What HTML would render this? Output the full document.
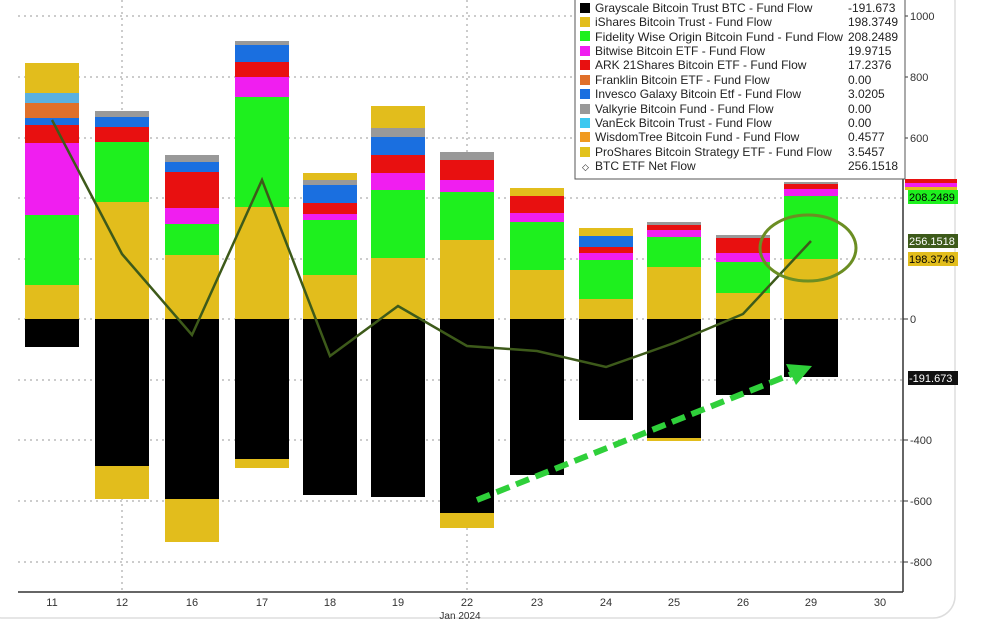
<!DOCTYPE html>
<html><head><meta charset="utf-8"><style>
body{margin:0;background:#fff;width:994px;height:621px;overflow:hidden;font-family:"Liberation Sans",sans-serif}
</style></head><body>
<svg width="994" height="621" xmlns="http://www.w3.org/2000/svg" font-family="Liberation Sans, sans-serif">
<rect x="-20" y="-20" width="975" height="638" rx="22" fill="#fff" stroke="#ddd" stroke-width="1.5"/>
<g stroke="#999" stroke-dasharray="2,4" stroke-width="1">
<line x1="18" y1="16" x2="903" y2="16"/><line x1="18" y1="77" x2="903" y2="77"/><line x1="18" y1="138" x2="903" y2="138"/><line x1="18" y1="198" x2="903" y2="198"/><line x1="18" y1="259" x2="903" y2="259"/><line x1="18" y1="319" x2="903" y2="319"/><line x1="18" y1="380" x2="903" y2="380"/><line x1="18" y1="440" x2="903" y2="440"/><line x1="18" y1="501" x2="903" y2="501"/><line x1="18" y1="562" x2="903" y2="562"/>
<line x1="122" y1="0" x2="122" y2="592"/><line x1="467" y1="0" x2="467" y2="592"/>
</g>
<g id="bars">
<rect x="25" y="319" width="54" height="28" fill="#000"/><rect x="25" y="285" width="54" height="34" fill="#e2bd1c"/><rect x="25" y="215" width="54" height="70" fill="#1ef01e"/><rect x="25" y="143" width="54" height="72" fill="#f01ef0"/><rect x="25" y="125" width="54" height="18" fill="#e81010"/><rect x="25" y="118" width="54" height="7" fill="#1a6fe0"/><rect x="25" y="103" width="54" height="15" fill="#e0702a"/><rect x="25" y="93" width="54" height="10" fill="#5ab0e0"/><rect x="25" y="63" width="54" height="30" fill="#e2bd1c"/>
<rect x="95" y="319" width="54" height="147" fill="#000"/><rect x="95" y="466" width="54" height="33" fill="#e2bd1c"/><rect x="95" y="202" width="54" height="117" fill="#e2bd1c"/><rect x="95" y="142" width="54" height="60" fill="#1ef01e"/><rect x="95" y="127" width="54" height="15" fill="#e81010"/><rect x="95" y="117" width="54" height="10" fill="#1a6fe0"/><rect x="95" y="111" width="54" height="6" fill="#999"/>
<rect x="165" y="319" width="54" height="180" fill="#000"/><rect x="165" y="499" width="54" height="43" fill="#e2bd1c"/><rect x="165" y="255" width="54" height="64" fill="#e2bd1c"/><rect x="165" y="224" width="54" height="31" fill="#1ef01e"/><rect x="165" y="208" width="54" height="16" fill="#f01ef0"/><rect x="165" y="172" width="54" height="36" fill="#e81010"/><rect x="165" y="162" width="54" height="10" fill="#1a6fe0"/><rect x="165" y="155" width="54" height="7" fill="#999"/>
<rect x="235" y="319" width="54" height="140" fill="#000"/><rect x="235" y="459" width="54" height="9" fill="#e2bd1c"/><rect x="235" y="207" width="54" height="112" fill="#e2bd1c"/><rect x="235" y="97" width="54" height="110" fill="#1ef01e"/><rect x="235" y="77" width="54" height="20" fill="#f01ef0"/><rect x="235" y="62" width="54" height="15" fill="#e81010"/><rect x="235" y="45" width="54" height="17" fill="#1a6fe0"/><rect x="235" y="41" width="54" height="4" fill="#999"/>
<rect x="303" y="319" width="54" height="176" fill="#000"/><rect x="303" y="275" width="54" height="44" fill="#e2bd1c"/><rect x="303" y="220" width="54" height="55" fill="#1ef01e"/><rect x="303" y="214" width="54" height="6" fill="#f01ef0"/><rect x="303" y="203" width="54" height="11" fill="#e81010"/><rect x="303" y="185" width="54" height="18" fill="#1a6fe0"/><rect x="303" y="180" width="54" height="5" fill="#999"/><rect x="303" y="173" width="54" height="7" fill="#e2bd1c"/>
<rect x="371" y="319" width="54" height="178" fill="#000"/><rect x="371" y="258" width="54" height="61" fill="#e2bd1c"/><rect x="371" y="190" width="54" height="68" fill="#1ef01e"/><rect x="371" y="173" width="54" height="17" fill="#f01ef0"/><rect x="371" y="155" width="54" height="18" fill="#e81010"/><rect x="371" y="137" width="54" height="18" fill="#1a6fe0"/><rect x="371" y="128" width="54" height="9" fill="#999"/><rect x="371" y="106" width="54" height="22" fill="#e2bd1c"/>
<rect x="440" y="319" width="54" height="194" fill="#000"/><rect x="440" y="513" width="54" height="15" fill="#e2bd1c"/><rect x="440" y="240" width="54" height="79" fill="#e2bd1c"/><rect x="440" y="192" width="54" height="48" fill="#1ef01e"/><rect x="440" y="180" width="54" height="12" fill="#f01ef0"/><rect x="440" y="160" width="54" height="20" fill="#e81010"/><rect x="440" y="152" width="54" height="8" fill="#999"/>
<rect x="510" y="319" width="54" height="156" fill="#000"/><rect x="510" y="270" width="54" height="49" fill="#e2bd1c"/><rect x="510" y="222" width="54" height="48" fill="#1ef01e"/><rect x="510" y="213" width="54" height="9" fill="#f01ef0"/><rect x="510" y="196" width="54" height="17" fill="#e81010"/><rect x="510" y="188" width="54" height="8" fill="#e2bd1c"/>
<rect x="579" y="319" width="54" height="101" fill="#000"/><rect x="579" y="299" width="54" height="20" fill="#e2bd1c"/><rect x="579" y="260" width="54" height="39" fill="#1ef01e"/><rect x="579" y="253" width="54" height="7" fill="#f01ef0"/><rect x="579" y="247" width="54" height="6" fill="#e81010"/><rect x="579" y="236" width="54" height="11" fill="#1a6fe0"/><rect x="579" y="228" width="54" height="8" fill="#e2bd1c"/>
<rect x="647" y="319" width="54" height="119" fill="#000"/><rect x="647" y="438" width="54" height="3" fill="#e2bd1c"/><rect x="647" y="267" width="54" height="52" fill="#e2bd1c"/><rect x="647" y="237" width="54" height="30" fill="#1ef01e"/><rect x="647" y="230" width="54" height="7" fill="#f01ef0"/><rect x="647" y="225" width="54" height="5" fill="#e81010"/><rect x="647" y="222" width="54" height="3" fill="#999"/>
<rect x="716" y="319" width="54" height="76" fill="#000"/><rect x="716" y="293" width="54" height="26" fill="#e2bd1c"/><rect x="716" y="262" width="54" height="31" fill="#1ef01e"/><rect x="716" y="253" width="54" height="9" fill="#f01ef0"/><rect x="716" y="238" width="54" height="15" fill="#e81010"/><rect x="716" y="235" width="54" height="3" fill="#999"/>
<rect x="784" y="319" width="54" height="58" fill="#000"/><rect x="784" y="259" width="54" height="60" fill="#e2bd1c"/><rect x="784" y="196" width="54" height="63" fill="#1ef01e"/><rect x="784" y="189" width="54" height="7" fill="#f01ef0"/><rect x="784" y="184" width="54" height="5" fill="#e81010"/><rect x="784" y="182" width="54" height="2" fill="#999"/>
</g>
<polyline points="52,120 122,254 192,335 262,180 330,356 398,306 467,346 537,351 606,367 674,343 743,314 811,241" fill="none" stroke="#3d5a1a" stroke-width="2.5"/>
<ellipse cx="808" cy="248" rx="48" ry="33" fill="none" stroke="#6b8e23" stroke-width="3"/>
<line x1="477" y1="500" x2="792" y2="374" stroke="#2fd03a" stroke-width="6" stroke-dasharray="14,7"/>
<polygon points="812,366 786,364 796,385" fill="#2fd03a"/>
<line x1="903" y1="0" x2="903" y2="592" stroke="#333" stroke-width="1.5"/>
<line x1="18" y1="592" x2="903" y2="592" stroke="#333" stroke-width="1.5"/>
<g font-size="11" fill="#333">
<text x="910" y="20">1000</text><text x="910" y="81">800</text><text x="910" y="142">600</text><text x="910" y="323">0</text><text x="910" y="444">-400</text><text x="910" y="505">-600</text><text x="910" y="566">-800</text>
</g>
<g stroke="#333"><line x1="903" y1="16" x2="908" y2="16"/><line x1="903" y1="77" x2="908" y2="77"/><line x1="903" y1="138" x2="908" y2="138"/><line x1="903" y1="319" x2="908" y2="319"/><line x1="903" y1="440" x2="908" y2="440"/><line x1="903" y1="501" x2="908" y2="501"/><line x1="903" y1="562" x2="908" y2="562"/></g>
<rect x="905" y="179" width="52" height="4" fill="#e81010"/><rect x="905" y="183" width="52" height="4" fill="#f01ef0"/><rect x="905" y="187" width="52" height="3" fill="#e2bd1c"/>
<g font-size="11">
<rect x="908" y="190" width="50" height="14" fill="#1ef01e"/><text x="909" y="201" fill="#000">208.2489</text>
<rect x="908" y="234" width="50" height="14" fill="#3d5a1a"/><text x="909" y="245" fill="#fff">256.1518</text>
<rect x="908" y="252" width="50" height="14" fill="#e2bd1c"/><text x="909" y="263" fill="#000">198.3749</text>
<rect x="908" y="371" width="50" height="14" fill="#111"/><text x="909" y="382" fill="#fff">-191.673</text>
</g>
<g font-size="11" fill="#333" text-anchor="middle">
<text x="52" y="606">11</text><text x="122" y="606">12</text><text x="192" y="606">16</text><text x="262" y="606">17</text><text x="330" y="606">18</text><text x="398" y="606">19</text><text x="467" y="606">22</text><text x="537" y="606">23</text><text x="606" y="606">24</text><text x="674" y="606">25</text><text x="743" y="606">26</text><text x="811" y="606">29</text><text x="880" y="606">30</text>
<text x="460" y="619" font-size="10">Jan 2024</text>
</g>
<rect x="575" y="-2" width="330" height="181" fill="#fff" stroke="#555" stroke-width="1"/>
<g font-size="12" fill="#222">
<rect x="580" y="3" width="10" height="10" fill="#000"/><text x="595" y="12">Grayscale Bitcoin Trust BTC - Fund Flow</text><text x="848" y="12">-191.673</text>
<rect x="580" y="17" width="10" height="10" fill="#e2bd1c"/><text x="595" y="26">iShares Bitcoin Trust - Fund Flow</text><text x="848" y="26">198.3749</text>
<rect x="580" y="31" width="10" height="10" fill="#1ef01e"/><text x="595" y="41" textLength="248" lengthAdjust="spacingAndGlyphs">Fidelity Wise Origin Bitcoin Fund - Fund Flow</text><text x="848" y="41">208.2489</text>
<rect x="580" y="46" width="10" height="10" fill="#f01ef0"/><text x="595" y="55">Bitwise Bitcoin ETF - Fund Flow</text><text x="848" y="55">19.9715</text>
<rect x="580" y="60" width="10" height="10" fill="#e81010"/><text x="595" y="69">ARK 21Shares Bitcoin ETF - Fund Flow</text><text x="848" y="69">17.2376</text>
<rect x="580" y="75" width="10" height="10" fill="#e0702a"/><text x="595" y="84">Franklin Bitcoin ETF - Fund Flow</text><text x="848" y="84">0.00</text>
<rect x="580" y="89" width="10" height="10" fill="#1a6fe0"/><text x="595" y="98">Invesco Galaxy Bitcoin Etf - Fund Flow</text><text x="848" y="98">3.0205</text>
<rect x="580" y="104" width="10" height="10" fill="#999"/><text x="595" y="113">Valkyrie Bitcoin Fund - Fund Flow</text><text x="848" y="113">0.00</text>
<rect x="580" y="118" width="10" height="10" fill="#3cc8f0"/><text x="595" y="127">VanEck Bitcoin Trust - Fund Flow</text><text x="848" y="127">0.00</text>
<rect x="580" y="132" width="10" height="10" fill="#f09a20"/><text x="595" y="141">WisdomTree Bitcoin Fund - Fund Flow</text><text x="848" y="141">0.4577</text>
<rect x="580" y="147" width="10" height="10" fill="#e2c21c"/><text x="595" y="156">ProShares Bitcoin Strategy ETF - Fund Flow</text><text x="848" y="156">3.5457</text>
<text x="582" y="170" font-size="9">◇</text><text x="595" y="170">BTC ETF Net Flow</text><text x="848" y="170">256.1518</text>
</g>
</svg>
</body></html>
